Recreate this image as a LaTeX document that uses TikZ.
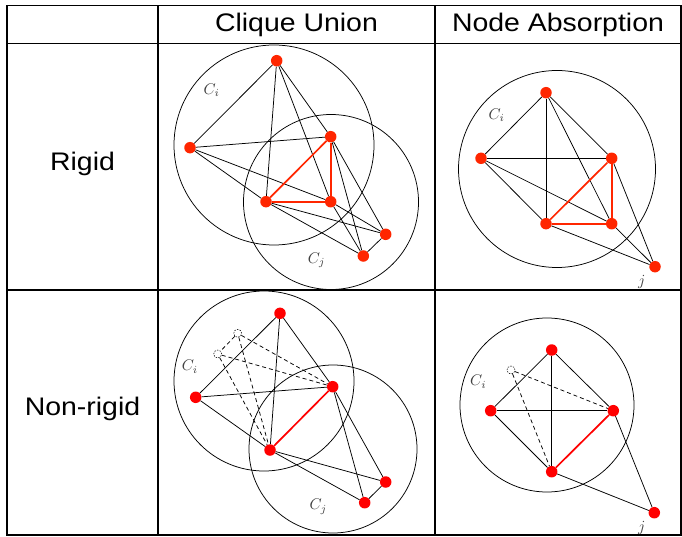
\documentclass[tikz,border=0pt]{standalone}
\usepackage{fontspec}
\setmainfont{Liberation Sans}
\usepackage{graphicx}
\definecolor{rigidred}{RGB}{255,38,0}
\definecolor{loosered}{RGB}{255,0,0}
\tikzset{
  vtx/.style={circle, fill=#1, inner sep=0pt, minimum size=11.5bp},
  vtx/.default=rigidred,
  ghost/.style={circle, draw, inner sep=0pt, minimum size=8bp, line width=0.5bp, dash pattern=on 1.5bp off 1.2bp},
  ln/.style={line width=0.75bp},
  redln/.style={line width=1.7bp, draw=#1},
  redln/.default=rigidred,
  dln/.style={line width=0.75bp, dash pattern=on 4bp off 3bp},
  ring/.style={line width=0.75bp},
  grid/.style={line width=1.8bp},
  hdr/.style={font=\fontsize{25.5}{28}\selectfont, anchor=base, inner sep=0pt},
  lbl/.style={text=black!75, inner sep=0pt}
}
\newcommand{\wide}[1]{\scalebox{1.12}[1]{#1}}
\newcommand{\mlbl}[1]{\scalebox{1.55}{$#1$}}
\begin{document}
\begin{tikzpicture}[x=1bp,y=-1bp]
\useasboundingbox (0,0) rectangle (682,537);

% table frame
\draw[grid] (7,5.5) rectangle (681,535);
\draw[grid] (7,43.5) -- (681,43.5);
\draw[grid] (7,290) -- (681,290);
\draw[grid] (158,5.5) -- (158,535);
\draw[grid] (435,5.5) -- (435,535);

% headings
\node[hdr] (hcu) at (296.5,31.5) {\wide{Clique Union}};
\node[hdr] (hna) at (558,31.5) {\wide{Node Absorption}};
\node[hdr] (hrg) at (82.5,171) {\wide{Rigid}};
\node[hdr] (hnr) at (82.5,415) {\wide{Non-rigid}};

% ---- rigid, clique union ----
\draw[ring] (274,145) circle[radius=100];
\draw[ring] (331,202) circle[radius=87.5];
\node[lbl] (ci1) at (211.7,90) {\mlbl{C_i}};
\node[lbl] (cj1) at (316.7,260) {\mlbl{C_j}};
\node[vtx] (at) at (276.7,60.7) {};
\node[vtx] (al) at (190,147.7) {};
\node[vtx] (aur) at (330.7,136.7) {};
\node[vtx] (all) at (266,201.7) {};
\node[vtx] (alr) at (330.7,201.7) {};
\node[vtx] (afr) at (385.7,234.3) {};
\node[vtx] (ab) at (363.3,256) {};
\draw[ln] (at) -- (al);   \draw[ln] (at) -- (aur);
\draw[ln] (at) -- (all);  \draw[ln] (at) -- (alr);
\draw[ln] (al) -- (aur);  \draw[ln] (al) -- (all);
\draw[ln] (al) -- (alr);
\draw[ln] (all) -- (afr); \draw[ln] (all) -- (ab);
\draw[ln] (alr) -- (afr); \draw[ln] (alr) -- (ab);
\draw[ln] (aur) -- (afr); \draw[ln] (aur) -- (ab);
\draw[ln] (afr) -- (ab);
\draw[redln] (all) -- (aur);
\draw[redln] (aur) -- (alr);
\draw[redln] (all) -- (alr);

% ---- rigid, node absorption ----
\draw[ring] (557,169) circle[radius=98.5];
\node[lbl] (ci2) at (496.7,115) {\mlbl{C_i}};
\node[lbl] (jl2) at (641.7,282.3) {\mlbl{j}};
\node[vtx] (bt) at (546,92.7) {};
\node[vtx] (bl) at (481,158.3) {};
\node[vtx] (br) at (611.7,158.3) {};
\node[vtx] (bll) at (546,223.7) {};
\node[vtx] (blr) at (611.7,223.7) {};
\node[vtx] (bj) at (655,266.7) {};
\draw[ln] (bt) -- (bl);  \draw[ln] (bt) -- (br);
\draw[ln] (bt) -- (bll); \draw[ln] (bt) -- (blr);
\draw[ln] (bl) -- (br);  \draw[ln] (bl) -- (bll);
\draw[ln] (bl) -- (blr);
\draw[ln] (bll) -- (bj); \draw[ln] (blr) -- (bj);
\draw[ln] (br) -- (bj);
\draw[redln] (bll) -- (br);
\draw[redln] (br) -- (blr);
\draw[redln] (bll) -- (blr);

% ---- non-rigid, clique union ----
\draw[ring] (264,381) circle[radius=90];
\draw[ring] (333,449) circle[radius=84];
\node[lbl] (ci3) at (190,366.7) {\mlbl{C_i}};
\node[lbl] (cj3) at (318.3,506.7) {\mlbl{C_j}};
\node[vtx=loosered] (ct) at (280,313.3) {};
\node[vtx=loosered] (cl) at (195.7,397.3) {};
\node[vtx=loosered] (cur) at (332.7,386.7) {};
\node[vtx=loosered] (cll) at (270,450) {};
\node[vtx=loosered] (cfr) at (385.7,482) {};
\node[vtx=loosered] (cb) at (364.7,502.7) {};
\node[ghost] (ca) at (237.7,333.3) {};
\node[ghost] (cg) at (217.7,354) {};
\draw[ln] (ct) -- (cl);   \draw[ln] (ct) -- (cll);
\draw[ln] (ct) -- (cur);  \draw[ln] (cl) -- (cur);
\draw[ln] (cl) -- (cll);
\draw[ln] (cll) -- (cfr); \draw[ln] (cll) -- (cb);
\draw[ln] (cur) -- (cfr); \draw[ln] (cur) -- (cb);
\draw[ln] (cfr) -- (cb);
\draw[dln] (ca) -- (cg);
\draw[dln] (ca) -- (cur); \draw[dln] (cg) -- (cur);
\draw[dln] (ca) -- (cll); \draw[dln] (cg) -- (cll);
\draw[redln=loosered] (cll) -- (cur);

% ---- non-rigid, node absorption ----
\draw[ring] (547,405) circle[radius=87];
\node[lbl] (ci4) at (478.3,381.7) {\mlbl{C_i}};
\node[lbl] (jl4) at (641.7,528.3) {\mlbl{j}};
\node[vtx=loosered] (dt) at (551.7,350) {};
\node[vtx=loosered] (dl) at (490.7,410.7) {};
\node[vtx=loosered] (dr) at (613.3,410.7) {};
\node[vtx=loosered] (db) at (551.7,471.7) {};
\node[vtx=loosered] (dj) at (654.3,512.7) {};
\node[ghost] (dg) at (511,370) {};
\draw[ln] (dt) -- (dl); \draw[ln] (dt) -- (db);
\draw[ln] (dt) -- (dr); \draw[ln] (dl) -- (dr);
\draw[ln] (dl) -- (db);
\draw[ln] (db) -- (dj); \draw[ln] (dr) -- (dj);
\draw[dln] (dg) -- (dr); \draw[dln] (dg) -- (db);
\draw[redln=loosered] (db) -- (dr);
\end{tikzpicture}
\end{document}
